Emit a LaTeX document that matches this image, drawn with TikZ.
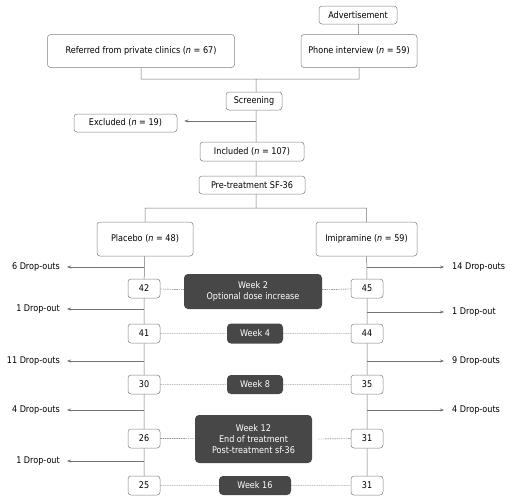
\documentclass[tikz,border=0pt]{standalone}
\usepackage{fontspec}
\setmainfont{DejaVu Sans}[FakeStretch=0.88]
\usepackage{tikz}
\usetikzlibrary{positioning, arrows.meta}
\tikzset{
>={Stealth[length=4pt, width=3pt]}, % small arrow heads
line/.style={draw=black!55, line width=0.5pt}, % the trunk lines
box/.style={draw=black!50, fill=white, rounded corners=3pt, line width=0.5pt, inner sep=1pt, font=\fontsize{9.2}{11}\selectfont, align=center}, % white boxes
week/.style={fill=black!72, text=white, rounded corners=4pt, inner sep=1pt, font=\fontsize{9.2}{11}\selectfont, align=center}, % dark week boxes
link/.style={draw=black!65, dash pattern=on 1.5pt off 0.8pt, line width=0.4pt}, % dashed links to the weeks
drop/.style={font=\fontsize{9.2}{11}\selectfont, inner sep=0pt}, % drop-out labels
}
\newcommand{\nn}{{\itshape n}}

\begin{document}
\begin{tikzpicture}[x=1pt, y=-1pt]
\useasboundingbox (0,0) rectangle (513,501);

            \node[box, minimum width=78pt, minimum height=18pt] (adv) at (358,15) {Advertisement};
            \node[box, minimum width=187pt, minimum height=33pt] (ref) at (141,51) {Referred from private clinics (\nn{} = 67)};
            \node[box, minimum width=116pt, minimum height=33pt] (phone) at (359,51) {Phone interview (\nn{} = 59)};
            \node[box, minimum width=56pt, minimum height=18pt] (screen) at (254,101) {Screening};
            \node[box, minimum width=103pt, minimum height=18pt] (excl) at (125.5,123) {Excluded (\nn{} = 19)};
            \node[box, minimum width=104pt, minimum height=19pt] (incl) at (252,151.5) {Included (\nn{} = 107)};
            \node[box, minimum width=106pt, minimum height=18pt] (pre) at (252,185) {Pre-treatment SF-36};
            \node[box, minimum width=96pt, minimum height=34pt] (plac) at (145,239) {Placebo (\nn{} = 48)};
            \node[box, minimum width=101pt, minimum height=34pt] (imip) at (366.5,239) {Imipramine (\nn{} = 59)};

            % counts per arm
            \foreach \k/\y/\p/\i in {1/288.5/42/45, 2/333.5/41/44, 3/384.5/30/35, 4/438.5/26/31, 5/485.5/25/31} {
                \node[box, minimum width=32pt, minimum height=19pt] (p\k) at (144,\y) {\p};
                \node[box, minimum width=32pt, minimum height=19pt] (i\k) at (367,\y) {\i};
            }

            % weeks
            \node[week, minimum width=138pt, minimum height=35pt] (w2) at (253,291.5) {Week 2\\Optional dose increase};
            \node[week, minimum width=56pt, minimum height=20pt] (w4) at (255,333.5) {Week 4};
            \node[week, minimum width=56pt, minimum height=19pt] (w8) at (255,384.5) {Week 8};
            \node[week, minimum width=117pt, minimum height=48pt] (w12) at (253.5,439) {Week 12\\End of treatment\\Post-treatment sf-36};
            \node[week, minimum width=72pt, minimum height=19pt] (w16) at (255,485.5) {Week 16};

            % drop-out labels
            \node[drop, anchor=east] (dl1) at (60,267) {6 Drop-outs};
            \node[drop, anchor=east] (dl2) at (60,309) {1 Drop-out};
            \node[drop, anchor=east] (dl3) at (60,361) {11 Drop-outs};
            \node[drop, anchor=east] (dl4) at (60,410) {4 Drop-outs};
            \node[drop, anchor=east] (dl5) at (60,461) {1 Drop-out};
            \node[drop, anchor=west] (dr1) at (452,267) {14 Drop-outs};
            \node[drop, anchor=west] (dr2) at (452,312) {1 Drop-out};
            \node[drop, anchor=west] (dr3) at (452,361) {9 Drop-outs};
            \node[drop, anchor=west] (dr4) at (452,410) {4 Drop-outs};

            \coordinate (join) at (256,79);
            \coordinate (split) at (256,208);

            \draw[line] (adv) -- (phone)
                        (ref.south) |- (join) -| (phone.south)
                        (join) -- (join |- screen.north)
                        (join |- screen.south) -- (join |- incl.north)
                        (join |- incl.south) -- (join |- pre.north)
                        (join |- pre.south) -- (split)
                        (plac.north) |- (split) -| (imip.north)
                        (plac) -- (p1) -- (p2) -- (p3) -- (p4) -- (p5)
                        (imip) -- (i1) -- (i2) -- (i3) -- (i4) -- (i5);

            % arrows out of the trunk
            \draw[line, ->] ([yshift=2pt]join |- excl) -- ([xshift=7pt, yshift=2pt]excl.east);
            \foreach \d in {dl1, dl2, dl3, dl4, dl5}
                \draw[line, ->] (p1 |- \d) -- ([xshift=7pt]\d.east);
            \foreach \d in {dr1, dr2, dr3, dr4}
                \draw[line, ->] (i1 |- \d) -- ([xshift=-8pt]\d.west);

            % dashed links
            \draw[link] (p1) -- (w2) -- (i1)
                        (p2) -- (w4) -- (i2)
                        (p3) -- (w8) -- (i3)
                        (p4) -- (w12)
                        ([xshift=6pt]w12.east) -- (i4)
                        (p5) -- (w16) -- (i5);
        \end{tikzpicture}
\end{document}
